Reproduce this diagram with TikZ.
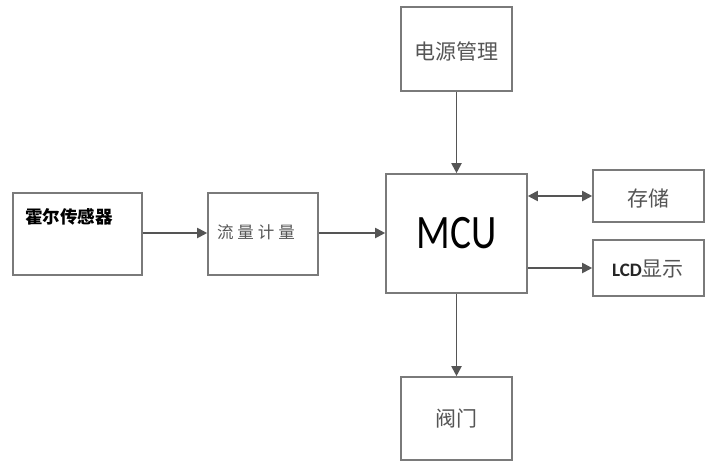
\documentclass[tikz,border=0pt]{standalone}
\usepackage{fontspec}
\setmainfont{Noto Sans CJK SC}
\newfontfamily\latinf{Carlito}
\usetikzlibrary{arrows.meta}
\definecolor{boxc}{HTML}{7A7A7A}
\definecolor{linec}{HTML}{555555}
\definecolor{txtc}{HTML}{555555}
\tikzset{
  box/.style={draw=boxc, line width=1.6pt, rectangle, inner sep=0pt},
  conn/.style={draw=linec, line width=1.9pt, -{Triangle[length=10pt,width=10pt]}},
  biconn/.style={draw=linec, line width=1.9pt, {Triangle[length=10pt,width=10pt]}-{Triangle[length=10pt,width=10pt]}},
  lbl/.style={inner sep=0pt, text=txtc, font=\fontsize{21}{23}\selectfont}
}
\begin{document}
\begin{tikzpicture}[x=1pt,y=1pt]
\useasboundingbox (0,0) rectangle (718,-474);
\fill[white] (0,0) rectangle (718,-474);
% boxes
\node[box, minimum width=129pt, minimum height=82pt] (hall) at (77.5,-234) {};
\node[box, minimum width=110pt, minimum height=82pt] (flow) at (263,-234) {};
\node[box, minimum width=111pt, minimum height=84pt] (power) at (456.5,-49) {};
\node[box, minimum width=141pt, minimum height=119pt] (mcu) at (456.5,-233.5) {};
\node[box, minimum width=111pt, minimum height=52pt] (store) at (648.5,-196) {};
\node[box, minimum width=111pt, minimum height=56pt] (lcd) at (648.5,-268) {};
\node[box, minimum width=111pt, minimum height=83pt] (valve) at (456.5,-418.5) {};
% texts
\node[inner sep=0pt, anchor=west, font=\fontsize{17.5}{19}\selectfont\bfseries] (hallt) at (25,-217) {霍尔传感器};
\node[lbl, font=\fontsize{16.5}{18}\selectfont] (flowt) at (256,-232) {流\hspace{4pt}量\hspace{4pt}计\hspace{4pt}量};
\node[lbl] (powert) at (456,-51) {电源管理};
\node[inner sep=0pt, text=black, font=\latinf\fontsize{48}{52}\selectfont] (mcut) at (456.5,-233) {\scalebox{0.82}[1]{MCU}};
\node[lbl] (storet) at (648,-198) {存储};
\node[lbl] (lcdt) at (648,-269) {{\latinf\bfseries\color{black!85}\fontsize{19}{21}\selectfont LCD}显示};
\node[lbl] (valvet) at (456,-419) {阀门};
% connectors
\draw[conn] (hall.east |- 0,-233) -- (flow.west |- 0,-233);
\draw[conn] (flow.east |- 0,-233) -- (mcu.west |- 0,-233);
\draw[conn] (power.south) -- (mcu.north);
\draw[conn] (mcu.south) -- (valve.north);
\draw[biconn] (mcu.east |- store.west) -- (store.west);
\draw[conn] (mcu.east |- lcd.west) -- (lcd.west);
\end{tikzpicture}
\end{document}
